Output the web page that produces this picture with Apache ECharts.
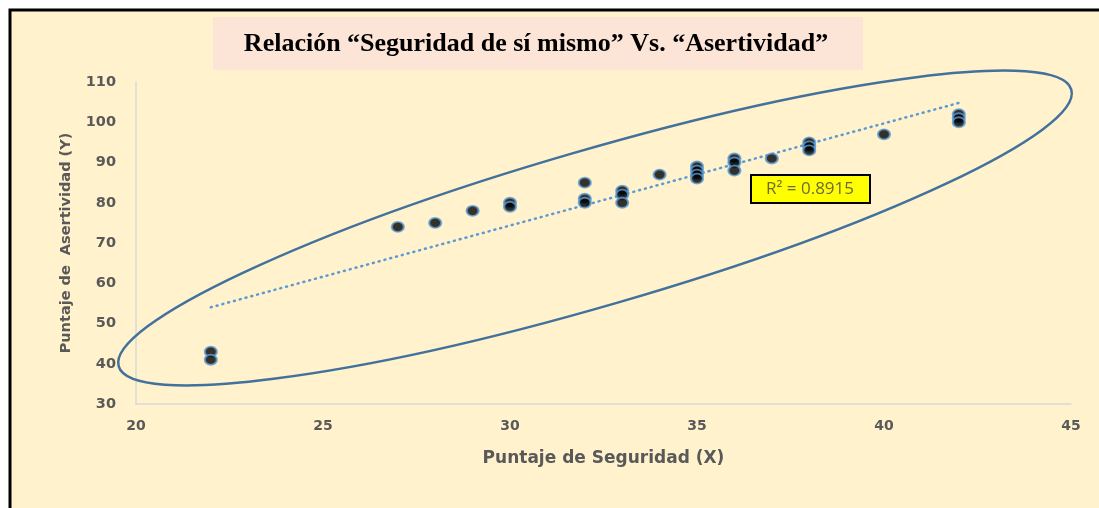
<!DOCTYPE html>
<html>
<head>
<meta charset="utf-8">
<script src="https://cdn.jsdelivr.net/npm/echarts@6/dist/echarts.min.js"></script>
<style>
  html, body { margin: 0; padding: 0; background: #ffffff; }
  #chart { width: 1099px; height: 508px; }
</style>
</head>
<body>
<div id="chart"></div>
<script>
// datos
const seguridad = [22, 22, 27, 28, 29, 30, 30, 32, 32, 32, 33, 33, 33, 34, 35, 35, 35, 35, 36, 36, 36, 37, 38, 38, 38, 40, 42, 42, 42];
const asertividad = [43, 41, 74, 75, 78, 80, 79, 85, 81, 80, 83, 82, 80, 87, 89, 88, 87, 86, 91, 90, 88, 91, 95, 94, 93, 97, 102, 101, 100];
const xTicks = [20, 25, 30, 35, 40, 45];
const yTicks = [30, 40, 50, 60, 70, 80, 90, 100, 110];
const titulo = 'Relación “Seguridad de sí mismo” Vs. “Asertividad”';
const etiquetaR2 = 'R² = 0.8915';

const puntos = seguridad.map((x, i) => [x, asertividad[i]]);

// recta de minimos cuadrados (linea de tendencia lineal)
function tendencia(xs, ys) {
  const n = xs.length;
  const mx = xs.reduce((a, b) => a + b, 0) / n;
  const my = ys.reduce((a, b) => a + b, 0) / n;
  let sxy = 0, sxx = 0;
  xs.forEach((x, i) => {
    sxy += (x - mx) * (ys[i] - my);
    sxx += (x - mx) * (x - mx);
  });
  const m = sxy / sxx;
  const b = my - m * mx;
  const x0 = Math.min(...xs), x1 = Math.max(...xs);
  return [[x0, m * x0 + b], [x1, m * x1 + b]];
}

const chart = echarts.init(document.getElementById('chart'));
const gris = '#595959';

chart.setOption({
  backgroundColor: '#ffffff',
  animation: false,
  graphic: [
    {
      type: 'rect', z: -10, silent: true,
      shape: { x: 10, y: 10, width: 1110, height: 520 },
      style: { fill: '#FFF2CC', stroke: '#000000', lineWidth: 3 }
    },
    {
      type: 'rect', z: -5, silent: true,
      shape: { x: 213, y: 17, width: 650, height: 53 },
      style: { fill: '#FCE4D6' }
    },
    {
      type: 'text', silent: true,
      x: 536, y: 44,
      style: {
        text: titulo, fill: '#000000', align: 'center', verticalAlign: 'middle',
        font: 'bold 26px "Liberation Serif", "Times New Roman", serif'
      }
    },
    {
      type: 'ellipse', silent: true, z: 5,
      x: 595, y: 228, rotation: 16.2 * Math.PI / 180,
      shape: { cx: 0, cy: 0, rx: 496, ry: 78 },
      style: { fill: null, stroke: '#41719C', lineWidth: 2.5 }
    },
    {
      type: 'group', z: 20,
      children: [
        {
          type: 'rect', silent: true,
          shape: { x: 751, y: 175, width: 119, height: 28 },
          style: { fill: '#FFFF00', stroke: '#000000', lineWidth: 2 }
        },
        {
          type: 'text', silent: true,
          x: 810, y: 189,
          style: {
            text: etiquetaR2, fill: '#6B6B3A', align: 'center', verticalAlign: 'middle',
            font: '17px "Open Sans", "Noto Sans", sans-serif'
          }
        }
      ]
    }
  ],
  grid: { left: 136, right: 28, top: 82, bottom: 104, containLabel: false },
  xAxis: {
    type: 'value',
    min: xTicks[0], max: xTicks[xTicks.length - 1], interval: 5,
    name: 'Puntaje de Seguridad (X)',
    nameLocation: 'middle', nameGap: 46,
    nameTextStyle: { color: gris, fontSize: 17, fontWeight: 'bold', fontFamily: 'DejaVu Sans' },
    axisLine: { show: true, lineStyle: { color: '#D9D9D9', width: 1.5 } },
    axisTick: { show: false },
    splitLine: { show: false },
    axisLabel: { color: gris, fontSize: 14, fontWeight: 'bold', fontFamily: 'DejaVu Sans', margin: 15 }
  },
  yAxis: {
    type: 'value',
    min: yTicks[0], max: yTicks[yTicks.length - 1], interval: 10,
    name: 'Puntaje de  Asertividad (Y)',
    nameLocation: 'middle', nameGap: 62, nameRotate: 90,
    nameTextStyle: { color: gris, fontSize: 14.5, fontWeight: 'bold', fontFamily: 'DejaVu Sans' },
    axisLine: { show: true, lineStyle: { color: '#D9D9D9', width: 1.5 } },
    axisTick: { show: false },
    splitLine: { show: false },
    axisLabel: { color: gris, fontSize: 14.5, fontWeight: 'bold', fontFamily: 'DejaVu Sans', margin: 20 }
  },
  series: [
    {
      name: 'Lineal (Asertividad)',
      type: 'line',
      data: tendencia(seguridad, asertividad),
      showSymbol: false,
      symbol: 'none',
      z: 2,
      lineStyle: { color: '#5B9BD5', width: 2.5, type: [1, 5], cap: 'round' }
    },
    {
      name: 'Asertividad',
      type: 'scatter',
      data: puntos,
      symbol: 'circle',
      symbolSize: [12, 10],
      z: 3,
      itemStyle: { color: '#000000', borderColor: '#5B9BD5', borderWidth: 2 }
    }
  ]
});
</script>
</body>
</html>
